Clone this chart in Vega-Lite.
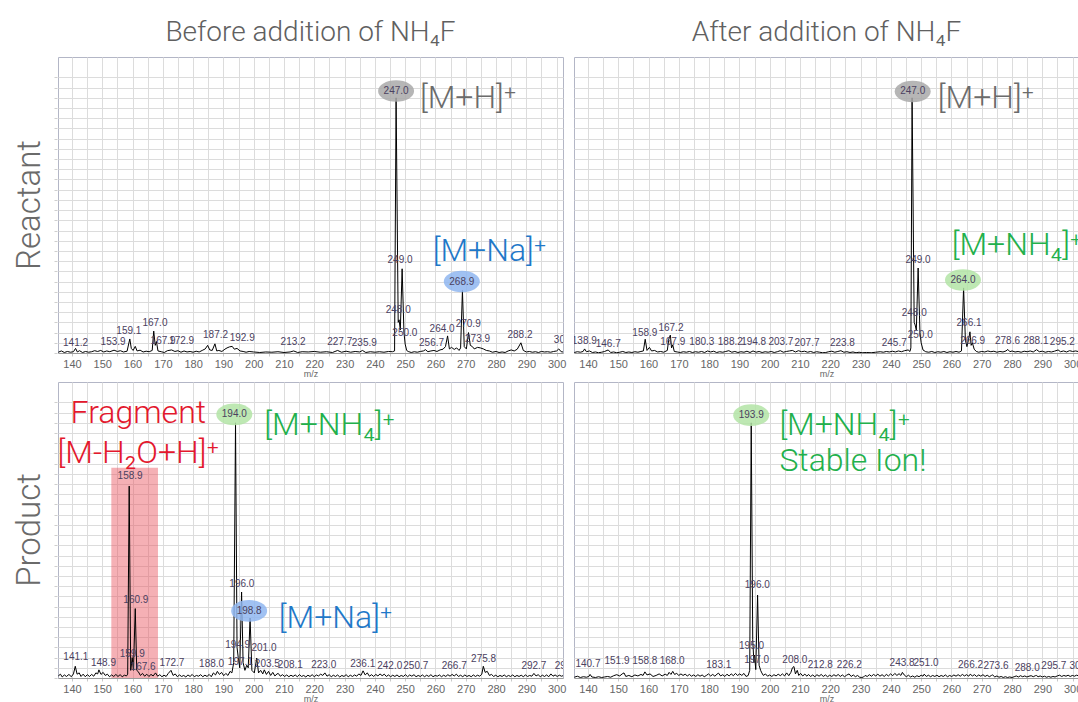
{
"$schema": "https://vega.github.io/schema/vega-lite/v6.json",
"background": "white",
"padding": {"left": 13, "top": 19, "right": 0, "bottom": 0},
"config": {"font": "Liberation Sans", "view": {"stroke": "#b3b6c6", "strokeWidth": 1}},
"data": {"values": [
{"k":"s","r":"R","c":"B","p":[[135.5,0.3],[136.5,0.8],[137.5,0.2],[138.5,0.6],[139.5,0.3],[140.5,0.5],[141.2,1.8],[141.8,0.4],[142.5,0.9],[143.5,0.2],[144.5,0.6],[145.5,0.3],[146.5,0.5],[147.5,0.9],[148.5,0.6],[149.5,1.0],[150.5,0.4],[151.5,0.8],[152.5,0.5],[153.9,1.1],[155,0.6],[156,0.9],[157,0.4],[158.2,0.7],[159.1,5.5],[159.6,1.8],[160.2,1.0],[160.9,2.6],[161.5,0.8],[162.5,1.1],[163.5,0.4],[164.5,0.7],[165.5,0.5],[166.5,1.0],[167.0,8.6],[167.5,3.0],[167.9,4.5],[168.4,0.8],[169.5,0.5],[170.5,0.2],[171.5,0.9],[172.9,1.2],[174,0.6],[175,0.9],[176,0.3],[177,0.8],[178,0.4],[179,0.6],[180,0.3],[181,0.7],[182,0.4],[183,1.0],[184,1.6],[184.8,3.0],[185.5,1.2],[186.3,1.0],[187.2,3.6],[187.8,0.8],[188.5,1.0],[189.5,0.6],[190.5,1.5],[191.2,2.0],[192.0,2.4],[192.9,2.6],[193.6,1.5],[194.5,1.8],[195.5,0.8],[196.5,0.6],[197.5,0.3],[198.5,0.6],[200,0.4],[202,0.2],[204,0.4],[206,0.3],[208,0.5],[210,0.2],[212,0.4],[213.2,0.8],[214.5,0.2],[216,0.5],[218,0.4],[220,0.6],[222,0.3],[224,0.5],[226,0.2],[227.7,1.0],[229,0.3],[230.5,0.7],[232,0.3],[233.5,0.6],[235,0.4],[235.9,1.0],[237,0.2],[238.5,0.5],[240,0.3],[241.5,0.5],[243,0.3],[244.5,0.6],[245.8,0.5],[246.5,0.8],[247.0,100],[247.7,12],[248.0,13],[248.4,9],[249.0,33],[249.6,8],[250.0,3.5],[250.5,1],[251,0.6],[252,0.2],[253,0.5],[254,0.3],[255,0.6],[256,0.8],[256.7,1.3],[257.5,0.5],[258.5,0.8],[259.5,1.0],[260.5,0.6],[261.5,1.2],[262.5,1.5],[263.3,2.5],[264.0,6.7],[264.6,1.6],[265.3,2.2],[266.2,1.4],[267,2.0],[267.8,1.0],[268.3,2],[268.9,24.5],[269.5,2.5],[270.2,1.6],[270.9,8.0],[271.5,3],[272.2,2.5],[272.8,1.6],[273.9,2.2],[274.8,2.0],[275.8,1.6],[276.8,1.0],[277.8,0.8],[278.8,0.3],[280,0.6],[281,0.2],[282,0.4],[283,0.2],[284,0.8],[285,1.2],[286,0.8],[287,1.5],[288.2,4.0],[289,1.0],[290,0.4],[291,0.6],[292,0.3],[293,0.5],[294,0.2],[295,0.6],[296,0.4],[297,0.5],[298,0.3],[299,0.6],[300,0.8],[300.7,1.6],[301.5,0.5],[302.1,0.4]]},
{"k":"s","r":"R","c":"A","p":[[135.5,0.2],[136.5,0.5],[137.5,0.3],[138.4,0.6],[138.9,1.6],[139.5,0.5],[140.5,0.8],[141.5,0.2],[142.5,0.4],[143.5,0.1],[144.5,0.3],[145.5,0.6],[146.7,1.2],[147.5,0.2],[148.5,0.4],[149.5,0.1],[150.5,0.3],[151.5,0.6],[152.5,0.2],[153.5,0.4],[154.5,0.2],[155.5,0.5],[156.5,0.3],[157.5,0.6],[158.3,0.8],[158.9,5.4],[159.5,1.0],[160.3,2.2],[161,0.8],[162,1.0],[163,0.4],[164,0.6],[165,0.3],[166.2,1.0],[166.7,5.5],[167.2,7.0],[167.6,2.0],[168.0,3.2],[168.5,0.6],[169.5,0.4],[170.5,0.2],[171.5,0.5],[172.5,0.3],[173.5,0.6],[174.5,0.2],[175.5,0.5],[176.5,0.3],[177.5,0.6],[178.5,0.2],[179.5,0.8],[180.5,0.4],[181.5,0.7],[182.5,0.2],[183.5,0.5],[184.5,0.3],[185.5,0.6],[186.5,0.9],[187.5,0.3],[188.5,0.6],[189.5,0.2],[190.5,0.5],[191.5,0.3],[192.5,0.7],[193.5,0.2],[194.5,0.8],[195.5,0.3],[196.5,0.6],[197.5,0.2],[198.5,0.5],[199.5,0.3],[200.5,0.6],[201.5,0.2],[202.5,0.5],[203.5,0.9],[204.5,0.3],[205.5,0.6],[206.5,0.8],[207.5,1.0],[208.5,0.4],[209.5,0.9],[210.5,0.5],[211.5,0.7],[212.5,0.3],[213.5,0.6],[214.5,0.2],[215.5,0.5],[216.5,0.3],[217.5,0.1],[218.5,0.2],[219.5,0.5],[220.5,0.7],[221.5,0.3],[222.5,0.6],[223.5,0.9],[224.5,0.3],[225.5,0.5],[226.5,0.2],[227.5,0.4],[228.5,0.1],[229.5,0.3],[230.5,0.1],[232,0.2],[233.5,0.1],[235,0.3],[236.5,0.5],[237.5,0.3],[238.5,0.6],[239.5,0.4],[240.5,0.7],[241.5,0.4],[242.5,0.8],[243.5,0.5],[244.5,0.9],[245.7,1.2],[246.3,0.6],[246.6,2],[247.0,100],[247.7,12],[248.0,11],[248.4,9],[249.0,33.3],[249.6,8],[250.0,4],[250.6,1.2],[251.5,0.5],[252.5,0.3],[253.5,0.6],[254.5,0.2],[255.5,0.5],[256.5,0.3],[257.5,0.6],[258.5,0.2],[259.5,0.5],[260.5,0.3],[261.5,0.6],[262.5,0.3],[263.3,0.8],[264.0,25.5],[264.6,5],[265.1,2.5],[265.6,5],[266.1,8.3],[266.5,3],[266.9,4],[267.5,1.5],[268.2,0.6],[269,0.3],[270,0.6],[271,0.4],[272,0.8],[273,0.5],[274,0.7],[275,0.3],[276,0.6],[277,0.4],[278,0.8],[278.6,1.4],[279.3,0.5],[280,0.8],[281,0.4],[282,0.6],[283,0.3],[284,0.7],[285,0.5],[286,0.8],[287,0.4],[288.1,1.3],[289,0.5],[290,0.7],[291,0.3],[292,0.6],[293,0.4],[294,0.7],[295.2,1.2],[296,0.5],[297,0.8],[298,0.4],[299,0.9],[300,0.6],[301,0.8],[302.1,0.5]]},
{"k":"s","r":"P","c":"B","p":[[135.5,0.8],[136.2,1.5],[136.8,0.4],[137.5,1.2],[138.2,0.6],[139,1.4],[139.8,0.5],[140.5,1.6],[141.1,4.6],[141.7,1.5],[142.4,2.0],[143,0.6],[143.7,1.5],[144.4,0.5],[145.1,1.3],[145.8,0.6],[146.5,1.4],[147.2,0.7],[147.9,2.0],[148.5,1.6],[148.9,3.2],[149.6,1.4],[150.3,2.2],[151,1.0],[151.7,1.5],[152.4,0.5],[153.1,1.2],[153.8,0.6],[154.5,1.4],[155.2,0.6],[155.9,1.3],[156.6,0.5],[157.3,1.1],[158.0,0.8],[158.4,1.5],[158.9,75.2],[159.4,3],[159.9,8],[160.3,3],[160.9,27.2],[161.4,3],[161.9,2.5],[162.6,1.0],[163.3,1.8],[164,0.7],[164.7,1.5],[165.4,0.6],[166.1,1.4],[166.8,0.8],[167.6,2.0],[168.3,0.7],[169,1.3],[169.7,0.5],[170.4,1.1],[171.1,0.6],[171.8,1.8],[172.7,3.0],[173.4,1.0],[174.1,1.6],[174.8,0.5],[175.5,1.2],[176.2,0.6],[176.9,1.0],[177.6,0.4],[178.3,1.2],[179,0.6],[179.7,1.4],[180.4,0.5],[181.1,1.0],[181.8,0.7],[182.5,1.3],[183.2,0.5],[183.9,1.1],[184.6,0.6],[185.3,1.4],[186,0.5],[186.7,2.0],[187.4,1.2],[188.0,2.6],[188.7,1.4],[189.4,2.2],[190.1,0.9],[190.8,1.8],[191.5,1.0],[192.2,2.6],[192.8,2.0],[193.4,6],[194.0,100],[194.5,12],[194.9,8],[195.4,4],[196.0,33.7],[196.5,6],[197.1,3],[197.7,5],[198.2,4],[198.8,23.5],[199.4,3],[200.2,2],[201.0,7.8],[201.6,2.0],[202.3,3.0],[203.0,1.6],[203.5,3.2],[204.2,1.4],[204.9,2.6],[205.6,1.0],[206.3,2.2],[207,0.8],[207.7,1.6],[208.1,1.8],[208.8,0.7],[209.5,1.3],[210.2,0.6],[210.9,1.2],[211.6,0.5],[212.3,1.1],[213,0.6],[213.7,1.2],[214.4,0.5],[215.1,1.3],[215.8,0.6],[216.5,1.0],[217.2,0.4],[217.9,1.1],[218.6,0.6],[219.3,1.3],[220,0.5],[220.7,1.2],[221.4,0.8],[222.1,1.5],[222.8,1.0],[223.5,2.0],[224.2,0.7],[224.9,1.3],[225.6,0.5],[226.3,1.1],[227,0.6],[227.7,1.2],[228.4,0.4],[229.1,1.0],[229.8,0.6],[230.5,1.3],[231.2,0.5],[231.9,1.1],[232.6,0.6],[233.3,1.2],[234,0.7],[234.7,1.6],[235.4,1.0],[236.1,2.8],[236.8,1.2],[237.5,2.0],[238.2,0.7],[238.9,1.3],[239.6,0.6],[240.3,1.4],[241,0.8],[241.7,1.6],[242.4,0.9],[243.1,1.5],[243.8,0.6],[244.5,1.2],[245.2,0.5],[245.9,1.1],[246.6,0.6],[247.3,1.2],[248,0.5],[248.7,1.0],[249.4,0.6],[250.1,1.3],[250.8,0.5],[251.5,1.2],[252.2,0.7],[252.9,1.3],[253.6,0.5],[254.3,1.0],[255,0.6],[255.7,1.2],[256.4,0.5],[257.1,1.1],[257.8,0.6],[258.5,1.3],[259.2,0.5],[259.9,1.0],[260.6,0.7],[261.3,1.2],[262,0.5],[262.7,1.1],[263.4,0.6],[264.1,1.3],[264.8,0.7],[265.5,1.4],[266.2,0.8],[266.9,1.5],[267.6,0.6],[268.3,1.1],[269,0.5],[269.7,1.2],[270.4,0.6],[271.1,1.0],[271.8,0.5],[272.5,1.2],[273.2,0.6],[273.9,1.1],[274.6,0.7],[275.3,1.5],[275.8,4.6],[276.4,2.2],[277.1,2.6],[277.8,1.0],[278.5,1.4],[279.2,0.6],[279.9,1.1],[280.6,0.5],[281.3,1.0],[282,0.6],[282.7,1.2],[283.4,0.5],[284.1,1.0],[284.8,0.6],[285.5,1.2],[286.2,0.5],[286.9,1.0],[287.6,0.6],[288.3,1.1],[289,0.5],[289.7,1.2],[290.4,0.6],[291.1,1.0],[291.8,0.7],[292.5,1.8],[293.2,0.8],[293.9,1.3],[294.6,0.5],[295.3,1.1],[296,0.6],[296.7,1.2],[297.4,0.5],[298.1,1.6],[298.8,0.7],[299.5,1.2],[300.2,0.6],[300.9,1.1],[301.6,0.7],[302.1,0.9]]},
{"k":"s","r":"P","c":"A","p":[[135.5,0.3],[136.5,0.7],[137.5,0.2],[138.5,0.5],[139.5,0.3],[140.3,0.6],[140.7,1.4],[141.3,0.4],[142.5,0.2],[143.5,0.5],[144.5,0.2],[145.5,0.4],[146.5,0.6],[147.5,0.3],[148.5,0.9],[149.5,1.3],[150.5,0.8],[151.3,1.6],[151.9,2.0],[152.5,0.6],[153.5,1.0],[154.5,0.5],[155.5,1.2],[156.5,0.8],[157.5,1.4],[158.2,1.0],[158.8,2.4],[159.5,1.2],[160.5,1.6],[161.5,0.6],[162.5,1.0],[163.5,1.6],[164.5,0.8],[165.5,1.5],[166.2,1.0],[166.8,2.2],[167.4,1.4],[168.0,2.6],[168.6,1.4],[169.3,1.8],[170,1.0],[170.7,1.6],[171.4,1.0],[172.1,1.5],[172.8,0.8],[173.5,1.4],[174.2,0.7],[174.9,1.2],[175.6,0.6],[176.3,1.3],[177,0.7],[177.7,1.2],[178.4,0.5],[179.1,1.0],[179.8,1.6],[180.5,0.8],[181.2,1.4],[181.9,0.7],[182.6,1.5],[183.1,1.9],[183.8,0.8],[184.5,1.3],[185.2,0.6],[185.9,1.5],[186.6,0.8],[187.3,1.6],[188,0.9],[188.7,1.8],[189.4,1.0],[190.1,1.6],[190.8,1.0],[191.5,1.8],[192.2,0.6],[192.9,1.0],[193.4,3],[193.9,100],[194.4,15],[194.8,6],[195.0,9],[195.4,3.3],[196.0,32.5],[196.5,5],[197.0,3],[197.4,2.0],[197.9,1.0],[198.6,1.6],[199.3,0.7],[200,1.2],[200.7,0.6],[201.4,1.3],[202.1,0.8],[202.8,1.5],[203.5,0.9],[204.2,1.6],[204.9,0.8],[205.6,2.0],[206.3,0.9],[207,2.2],[207.5,4.0],[208.0,4.5],[208.5,1.6],[209.1,3.0],[209.6,1.0],[210.2,1.8],[210.9,0.8],[211.6,1.5],[212.3,0.7],[212.8,1.4],[213.5,0.6],[214.2,1.2],[214.9,0.5],[215.6,1.3],[216.3,0.7],[217,1.4],[217.7,0.6],[218.4,1.2],[219.1,0.5],[219.8,1.1],[220.5,0.6],[221.2,1.3],[221.9,0.7],[222.6,1.4],[223.3,0.6],[224,1.2],[224.7,0.5],[225.4,1.1],[226.2,1.6],[226.9,0.6],[227.6,1.2],[228.3,0.5],[229,1.0],[229.7,0.3],[230.4,0.2],[231,0.4],[231.5,1.0],[232.2,0.6],[232.9,1.3],[233.6,0.7],[234.3,1.4],[235,0.8],[235.7,1.5],[236.4,0.7],[237.1,1.3],[237.8,0.6],[238.5,1.4],[239.2,0.8],[239.9,1.6],[240.6,0.9],[241.3,1.8],[242,1.0],[242.7,1.7],[243.3,1.0],[243.8,2.2],[244.4,1.2],[245.1,0.5],[245.8,1.1],[246.5,0.4],[247.2,0.8],[247.9,0.3],[248.6,0.9],[249.3,0.5],[250,1.1],[250.6,0.7],[251.0,1.5],[251.7,0.6],[252.4,1.1],[253.1,0.5],[253.8,1.0],[254.5,0.6],[255.2,1.1],[255.9,0.5],[256.6,1.0],[257.3,0.6],[258,1.2],[258.7,0.5],[259.4,1.0],[260.1,0.6],[260.8,1.2],[261.5,0.7],[262.2,1.3],[262.9,0.7],[263.6,1.4],[264.3,0.8],[265,1.3],[265.7,0.7],[266.2,1.5],[266.9,0.8],[267.6,1.3],[268.3,0.6],[269,1.2],[269.7,0.7],[270.4,1.3],[271.1,0.6],[271.8,1.1],[272.5,0.5],[273.2,1.0],[273.6,1.2],[274.3,0.4],[275,0.8],[275.7,0.3],[276.4,0.6],[277.1,0.2],[277.8,0.5],[278.5,0.2],[279.2,0.4],[280,0.2],[280.7,0.5],[281.4,0.8],[282.1,0.4],[282.8,0.9],[283.5,0.5],[284.2,0.8],[284.9,0.4],[285.6,0.7],[286.3,0.9],[287,0.5],[287.7,0.9],[288.0,1.0],[288.6,0.5],[289.3,0.8],[290,0.4],[290.7,0.7],[291.4,0.3],[292.1,0.6],[292.8,0.3],[293.5,0.6],[294.2,0.4],[294.9,0.8],[295.7,1.1],[296.4,0.6],[297.1,1.0],[297.8,0.7],[298.5,1.1],[299.2,0.6],[299.9,1.0],[300.6,0.7],[301.3,1.1],[302.1,0.8]]},
{"k":"hl","r":"P","c":"B","x":153.0,"x2":168.4,"y":0,"y2":82.4},
{"k":"h","r":"R","c":"B","t":"Spectrum, MS1 +Scan ESI (rt: 7.482-7.835 min, 89 scans) Frag=70V Subtract (rt: 7.482 min)"},
{"k":"h","r":"R","c":"A","t":"Spectrum, MS1 +Scan ESI (rt: 7.382-7.847 min, 117 scans) Frag=70V Subtract (rt: 7.382 min)"},
{"k":"h","r":"P","c":"B","t":"Spectrum, MS1 +Scan ESI (rt: 3.807-4.036 min, 58 scans) Frag=70V Subtract (rt: 3.807 min)"},
{"k":"h","r":"P","c":"A","t":"Spectrum, MS1 +Scan ESI (rt: 3.795-4.164 min, 93 scans) Frag=70V Subtract (rt: 3.796 min)"},
{"k":"e","r":"R","c":"B","x":247.0,"y":102.7,"t":"247.0","g":"H"},
{"k":"e","r":"R","c":"B","x":268.7,"y":28.0,"t":"268.9","g":"Na"},
{"k":"e","r":"R","c":"A","x":247.2,"y":102.5,"t":"247.0","g":"H"},
{"k":"e","r":"R","c":"A","x":263.8,"y":28.6,"t":"264.0","g":"NH4"},
{"k":"e","r":"P","c":"B","x":193.6,"y":103.3,"t":"194.0","g":"NH4"},
{"k":"e","r":"P","c":"B","x":198.5,"y":26.3,"t":"198.8","g":"Na"},
{"k":"e","r":"P","c":"A","x":193.9,"y":103.0,"t":"193.9","g":"NH4"},
{"k":"l","r":"R","c":"B","x":141.2,"y":4.0,"t":"141.2"},
{"k":"l","r":"R","c":"B","x":153.6,"y":4.3,"t":"153.9"},
{"k":"l","r":"R","c":"B","x":158.8,"y":8.6,"t":"159.1"},
{"k":"l","r":"R","c":"B","x":167.4,"y":11.9,"t":"167.0"},
{"k":"l","r":"R","c":"B","x":170.1,"y":4.7,"t":"167.9"},
{"k":"l","r":"R","c":"B","x":176.2,"y":4.7,"t":"172.9"},
{"k":"l","r":"R","c":"B","x":187.4,"y":7.0,"t":"187.2"},
{"k":"l","r":"R","c":"B","x":196.2,"y":6.0,"t":"192.9"},
{"k":"l","r":"R","c":"B","x":213.0,"y":4.3,"t":"213.2"},
{"k":"l","r":"R","c":"B","x":228.4,"y":4.4,"t":"227.7"},
{"k":"l","r":"R","c":"B","x":236.5,"y":4.0,"t":"235.9"},
{"k":"l","r":"R","c":"B","x":247.7,"y":16.7,"t":"248.0"},
{"k":"l","r":"R","c":"B","x":249.9,"y":7.7,"t":"250.0"},
{"k":"l","r":"R","c":"B","x":248.3,"y":36.5,"t":"249.0"},
{"k":"l","r":"R","c":"B","x":258.7,"y":4.0,"t":"256.7"},
{"k":"l","r":"R","c":"B","x":262.2,"y":9.5,"t":"264.0"},
{"k":"l","r":"R","c":"B","x":270.8,"y":11.5,"t":"270.9"},
{"k":"l","r":"R","c":"B","x":273.9,"y":5.4,"t":"273.9"},
{"k":"l","r":"R","c":"B","x":287.9,"y":6.9,"t":"288.2"},
{"k":"l","r":"R","c":"B","x":303.2,"y":5.0,"t":"300.1"},
{"k":"l","r":"R","c":"A","x":138.8,"y":4.7,"t":"138.9"},
{"k":"l","r":"R","c":"A","x":146.7,"y":3.5,"t":"146.7"},
{"k":"l","r":"R","c":"A","x":158.8,"y":7.7,"t":"158.9"},
{"k":"l","r":"R","c":"A","x":167.4,"y":9.9,"t":"167.2"},
{"k":"l","r":"R","c":"A","x":168.0,"y":4.4,"t":"167.9"},
{"k":"l","r":"R","c":"A","x":177.6,"y":4.4,"t":"180.3"},
{"k":"l","r":"R","c":"A","x":187.0,"y":4.4,"t":"188.2"},
{"k":"l","r":"R","c":"A","x":194.7,"y":4.4,"t":"194.8"},
{"k":"l","r":"R","c":"A","x":203.7,"y":4.4,"t":"203.7"},
{"k":"l","r":"R","c":"A","x":212.3,"y":4.0,"t":"207.7"},
{"k":"l","r":"R","c":"A","x":224.0,"y":4.0,"t":"223.8"},
{"k":"l","r":"R","c":"A","x":241.1,"y":3.8,"t":"245.7"},
{"k":"l","r":"R","c":"A","x":247.7,"y":15.8,"t":"248.0"},
{"k":"l","r":"R","c":"A","x":249.7,"y":7.0,"t":"250.0"},
{"k":"l","r":"R","c":"A","x":249.0,"y":36.5,"t":"249.0"},
{"k":"l","r":"R","c":"A","x":265.8,"y":11.6,"t":"266.1"},
{"k":"l","r":"R","c":"A","x":267.0,"y":4.7,"t":"266.9"},
{"k":"l","r":"R","c":"A","x":278.5,"y":4.7,"t":"278.6"},
{"k":"l","r":"R","c":"A","x":287.9,"y":4.7,"t":"288.1"},
{"k":"l","r":"R","c":"A","x":296.6,"y":4.4,"t":"295.2"},
{"k":"l","r":"P","c":"B","x":141.3,"y":8.1,"t":"141.1"},
{"k":"l","r":"P","c":"B","x":150.4,"y":5.9,"t":"148.9"},
{"k":"l","r":"P","c":"B","x":159.2,"y":79.1,"t":"158.9"},
{"k":"l","r":"P","c":"B","x":161.1,"y":30.5,"t":"160.9"},
{"k":"l","r":"P","c":"B","x":159.9,"y":9.5,"t":"159.9"},
{"k":"l","r":"P","c":"B","x":163.5,"y":4.2,"t":"167.6"},
{"k":"l","r":"P","c":"B","x":173.0,"y":5.9,"t":"172.7"},
{"k":"l","r":"P","c":"B","x":186.1,"y":5.6,"t":"188.0"},
{"k":"l","r":"P","c":"B","x":194.7,"y":13.0,"t":"194.9"},
{"k":"l","r":"P","c":"B","x":196.1,"y":37.0,"t":"196.0"},
{"k":"l","r":"P","c":"B","x":195.6,"y":6.3,"t":"197.1"},
{"k":"l","r":"P","c":"B","x":203.4,"y":11.8,"t":"201.0"},
{"k":"l","r":"P","c":"B","x":204.5,"y":5.6,"t":"203.5"},
{"k":"l","r":"P","c":"B","x":212.1,"y":5.2,"t":"208.1"},
{"k":"l","r":"P","c":"B","x":223.1,"y":5.2,"t":"223.0"},
{"k":"l","r":"P","c":"B","x":236.0,"y":5.6,"t":"236.1"},
{"k":"l","r":"P","c":"B","x":244.9,"y":4.8,"t":"242.0"},
{"k":"l","r":"P","c":"B","x":253.5,"y":4.8,"t":"250.7"},
{"k":"l","r":"P","c":"B","x":266.2,"y":4.8,"t":"266.7"},
{"k":"l","r":"P","c":"B","x":275.9,"y":7.5,"t":"275.8"},
{"k":"l","r":"P","c":"B","x":292.5,"y":4.8,"t":"292.7"},
{"k":"l","r":"P","c":"B","x":303.5,"y":4.6,"t":"298.1"},
{"k":"l","r":"P","c":"A","x":140.0,"y":5.6,"t":"140.7"},
{"k":"l","r":"P","c":"A","x":149.6,"y":6.5,"t":"151.9"},
{"k":"l","r":"P","c":"A","x":158.8,"y":6.5,"t":"158.8"},
{"k":"l","r":"P","c":"A","x":167.8,"y":6.5,"t":"168.0"},
{"k":"l","r":"P","c":"A","x":183.2,"y":5.2,"t":"183.1"},
{"k":"l","r":"P","c":"A","x":194.0,"y":12.7,"t":"195.0"},
{"k":"l","r":"P","c":"A","x":195.9,"y":36.5,"t":"196.0"},
{"k":"l","r":"P","c":"A","x":195.7,"y":6.9,"t":"197.0"},
{"k":"l","r":"P","c":"A","x":208.3,"y":7.2,"t":"208.0"},
{"k":"l","r":"P","c":"A","x":216.7,"y":5.0,"t":"212.8"},
{"k":"l","r":"P","c":"A","x":226.3,"y":5.0,"t":"226.2"},
{"k":"l","r":"P","c":"A","x":243.7,"y":5.9,"t":"243.8"},
{"k":"l","r":"P","c":"A","x":251.6,"y":5.9,"t":"251.0"},
{"k":"l","r":"P","c":"A","x":266.3,"y":5.2,"t":"266.2"},
{"k":"l","r":"P","c":"A","x":274.7,"y":4.6,"t":"273.6"},
{"k":"l","r":"P","c":"A","x":285.0,"y":3.9,"t":"288.0"},
{"k":"l","r":"P","c":"A","x":293.8,"y":4.6,"t":"295.7"},
{"k":"l","r":"P","c":"A","x":303.1,"y":4.6,"t":"301.1"},
{"k":"a","r":"R","c":"B","x":254.9,"y":100,"t":"[M+H]⁺","g":"H"},
{"k":"a","r":"R","c":"B","x":259.1,"y":40,"t":"[M+Na]⁺","g":"Na"},
{"k":"a","r":"R","c":"A","x":255.5,"y":100,"t":"[M+H]⁺","g":"H"},
{"k":"a","r":"R","c":"A","x":260.1,"y":42.4,"t":"[M+NH₄]⁺","g":"NH4"},
{"k":"ac","r":"P","c":"B","x":161.9,"y":104,"t":"Fragment","g":"F"},
{"k":"ac","r":"P","c":"B","x":161.9,"y":88.2,"t":"[M-H₂O+H]⁺","g":"F"},
{"k":"a","r":"P","c":"B","x":203.5,"y":99.3,"t":"[M+NH₄]⁺","g":"NH4"},
{"k":"a","r":"P","c":"B","x":208.3,"y":23.5,"t":"[M+Na]⁺","g":"Na"},
{"k":"a","r":"P","c":"A","x":203.2,"y":99.3,"t":"[M+NH₄]⁺","g":"NH4"},
{"k":"a","r":"P","c":"A","x":203.2,"y":85,"t":"Stable Ion!","g":"NH4"}
]},
"facet": {
  "column": {"field": "c", "type": "nominal", "sort": ["B", "A"], "title": null,
    "header": {"labelExpr": "datum.value == 'B' ? 'Before addition of NH₄F' : 'After addition of NH₄F'", "labelFont": "Roboto", "labelFontSize": 28, "labelFontWeight": 300, "labelColor": "#606060", "labelPadding": 9}},
  "row": {"field": "r", "type": "nominal", "sort": ["R", "P"], "title": null,
    "header": {"labelExpr": "datum.value == 'R' ? 'Reactant' : 'Product'", "labelFont": "Roboto", "labelFontSize": 33, "labelFontWeight": 300, "labelColor": "#6a6a6a", "labelAngle": -90, "labelPadding": -9}}
},
"spacing": {"row": 2, "column": 6},
"resolve": {"axis": {"x": "independent"}},
"spec": {
  "width": 505,
  "height": 296,
  "encoding": {
    "x": {"field": "x", "type": "quantitative", "scale": {"domain": [135.4, 302.1], "nice": false, "zero": false},
      "axis": {"title": "m/z", "values": [140,145,150,155,160,165,170,175,180,185,190,195,200,205,210,215,220,225,230,235,240,245,250,255,260,265,270,275,280,285,290,295,300], "labelExpr": "datum.value % 10 == 0 ? datum.label : ''", "grid": true, "gridColor": "#dcdcdc", "tickSize": 3, "tickColor": "#c8c8c8", "domainColor": "#9a9a9a", "labelFontSize": 11, "labelColor": "#666", "labelPadding": 2, "labelFlush": false, "labelOverlap": false, "titleFontSize": 9, "titleFontWeight": "normal", "titleColor": "#666", "titlePadding": 0}},
    "y": {"field": "y", "type": "quantitative", "scale": {"domain": [0, 116], "nice": false, "zero": false},
      "axis": {"title": null, "values": [0,4,8,12,16,20,24,28,32,36,40,44,48,52,56,60,64,68,72,76,80,84,88,92,96,100,104,108], "labels": false, "grid": true, "gridColor": "#dcdcdc", "tickSize": 3, "tickColor": "#cfcfcf", "domain": false}}
  },
  "layer": [
    {"transform": [{"filter": "datum.k == 'hl'"}], "mark": {"type": "rect", "fill": "#e8505a", "opacity": 0.45},
     "encoding": {"x2": {"field": "x2"}, "y2": {"field": "y2"}}},
    {"transform": [{"filter": "datum.k == 'h'"}], "mark": {"type": "rect", "fill": "white", "stroke": "#b3b6c6", "strokeWidth": 1},
     "encoding": {"x": {"datum": 135.4}, "x2": {"datum": 302.1}, "y": {"datum": 110.3}, "y2": {"datum": 116}}},
    {"transform": [{"filter": "datum.k == 's'"}, {"flatten": ["p"]}], "mark": {"type": "line", "color": "black", "strokeWidth": 1, "clip": true},
     "encoding": {
       "x": {"field": "p[0]", "type": "quantitative", "scale": {"domain": [135.4, 302.1], "nice": false, "zero": false}, "title": "m/z"},
       "y": {"field": "p[1]", "type": "quantitative", "scale": {"domain": [0, 116], "nice": false, "zero": false}, "title": null}}},
    {"transform": [{"filter": "datum.k == 'e'"}], "mark": {"type": "point", "shape": "M-1,0A1,0.6,0,1,0,1,0A1,0.6,0,1,0,-1,0Z", "size": 1296, "filled": true, "opacity": 0.85, "strokeWidth": 0},
     "encoding": {"fill": {"field": "g", "type": "nominal", "scale": {"domain": ["H", "Na", "NH4"], "range": ["#a9a9a9", "#8fb6f0", "#b3e4a6"]}, "legend": null}}},
    {"transform": [{"filter": "datum.k == 'l' || datum.k == 'e'"}], "mark": {"type": "text", "fontSize": 10, "color": "#4b4160", "clip": true, "baseline": "middle"},
     "encoding": {"text": {"field": "t"}}},
    {"transform": [{"filter": "datum.k == 'a'"}], "mark": {"type": "text", "align": "left", "baseline": "middle", "font": "Roboto", "fontSize": 32, "fontWeight": 300},
     "encoding": {"text": {"field": "t"}, "color": {"field": "g", "type": "nominal", "scale": {"domain": ["H", "Na", "NH4", "F"], "range": ["#6b6b6b", "#1f78c8", "#22b04b", "#e3182d"]}, "legend": null}}},
    {"transform": [{"filter": "datum.k == 'ac'"}], "mark": {"type": "text", "align": "center", "baseline": "middle", "font": "Roboto", "fontSize": 32, "fontWeight": 300},
     "encoding": {"text": {"field": "t"}, "color": {"field": "g", "type": "nominal", "scale": {"domain": ["H", "Na", "NH4", "F"], "range": ["#6b6b6b", "#1f78c8", "#22b04b", "#e3182d"]}, "legend": null}}},
    {"transform": [{"filter": "datum.k == 'h'"}], "mark": {"type": "text", "align": "left", "baseline": "middle", "fontSize": 9, "color": "#222"},
     "encoding": {"text": {"field": "t"}, "x": {"datum": 136.2}, "y": {"datum": 113.15}}}
  ]
}
}
